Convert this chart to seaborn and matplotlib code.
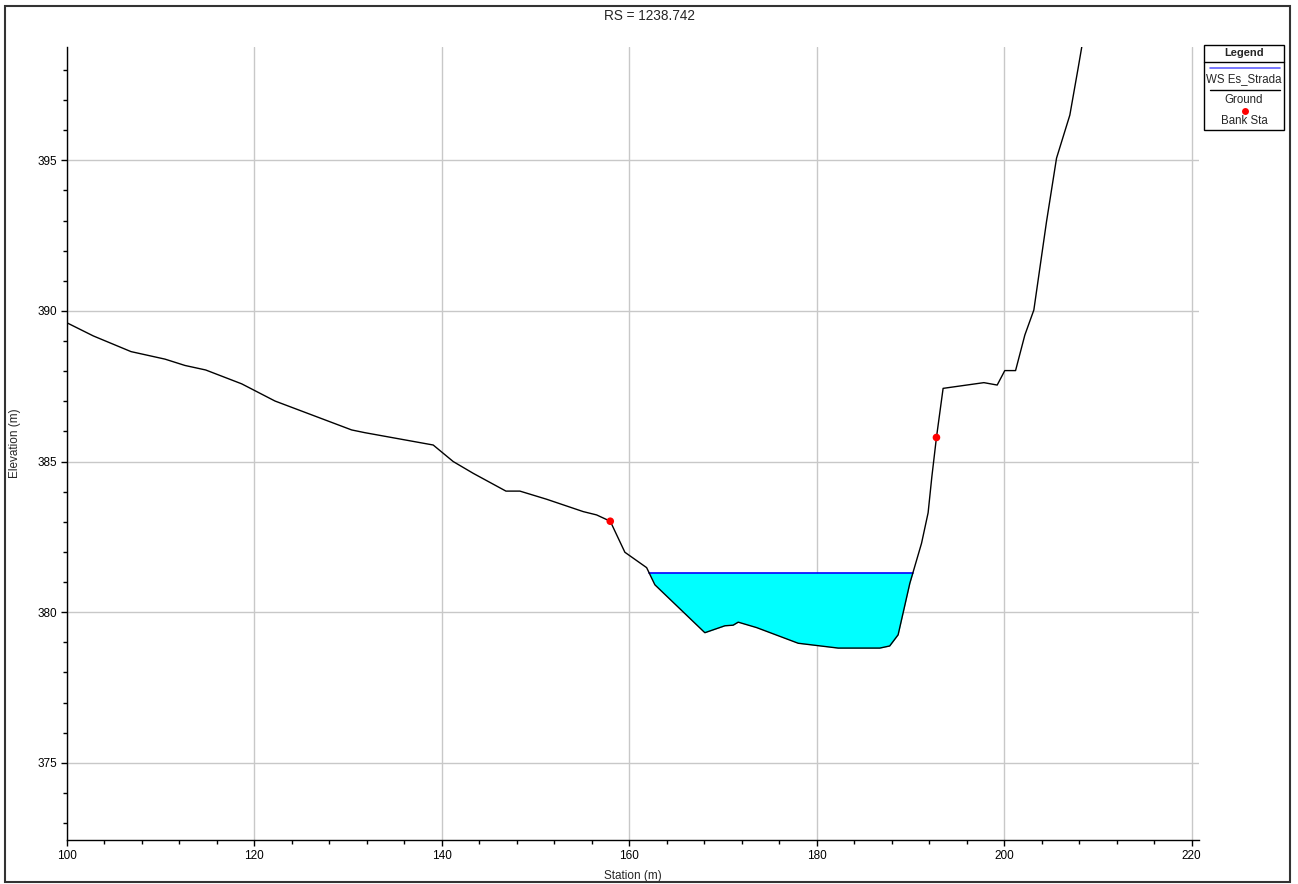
import numpy as np
import pandas as pd
import matplotlib
matplotlib.use("Agg")
import matplotlib.pyplot as plt
from matplotlib.lines import Line2D
from matplotlib.patches import Rectangle
from matplotlib.ticker import MultipleLocator
import seaborn as sns

# ---------------- data ----------------
title = "RS = 1238.742"
ws_label = "WS Es_Strada"
ws_elev = 381.31

station = [100.0, 102.84, 106.86, 110.49, 112.62, 114.83, 118.67, 122.22, 130.4, 131.8,
           139.1, 141.24, 143.37, 146.86, 148.35, 151.2, 155.1, 156.53, 157.99, 159.55,
           161.87, 162.75, 168.08, 170.22, 171.1, 171.64, 173.6, 178.04, 182.3, 186.75,
           187.8, 188.7, 189.95, 191.2, 191.9, 192.3, 192.79, 193.5, 197.85, 199.27, 200.08,
           201.23, 202.22, 203.18, 204.53, 205.6, 207.02, 207.9, 208.7]
elevation = [389.61, 389.17, 388.65, 388.40, 388.19, 388.04, 387.58, 387.01, 386.05, 385.96,
             385.55, 385.0, 384.61, 384.02, 384.02, 383.75, 383.34, 383.23, 383.02, 381.99,
             381.48, 380.91, 379.32, 379.55, 379.57, 379.67, 379.49, 378.97, 378.81, 378.81,
             378.88, 379.25, 380.96, 382.29, 383.3, 384.5, 385.8, 387.43, 387.62, 387.54, 388.02,
             388.02, 389.2, 390.03, 392.96, 395.07, 396.5, 398.05, 399.5]

bank_station = [157.99, 192.79]
bank_elev = [383.02, 385.8]

xticks = [100, 120, 140, 160, 180, 200, 220]
yticks = [375, 380, 385, 390, 395]

# ---------------- styling ----------------
sns.set_style("white")
plt.rcParams["font.family"] = ["Liberation Sans", "DejaVu Sans"]

W, H = 1298, 884
fig = plt.figure(figsize=(W / 100, H / 100), dpi=100)
ax = fig.add_axes([66.7 / W, 1 - 840 / H, (1199 - 66.7) / W, (840 - 46.7) / H])

ground = pd.DataFrame({"Station": station, "Elevation": elevation})
x = np.array(station)
y = np.array(elevation)

# water fill between ground and WS
xf = np.linspace(x.min(), x.max(), 6000)
yf = np.interp(xf, x, y)
wet = (yf < ws_elev) & (xf > 150) & (xf < 195)
ax.fill_between(xf, yf, ws_elev, where=wet, color="#00FFFF", linewidth=0, zorder=2)

# WS line extent (intersections of ground with WS)
x_left, x_right = xf[wet].min(), xf[wet].max()
ws_df = pd.DataFrame({"Station": [x_left, x_right], "Elevation": [ws_elev, ws_elev]})
sns.lineplot(data=ws_df, x="Station", y="Elevation", color="#0000FF", linewidth=1.2,
             ax=ax, zorder=3, legend=False)

sns.lineplot(data=ground, x="Station", y="Elevation", color="black", linewidth=1.0,
             ax=ax, zorder=4, sort=False, legend=False)

bank = pd.DataFrame({"Station": bank_station, "Elevation": bank_elev})
sns.scatterplot(data=bank, x="Station", y="Elevation", color="#FF0000", s=30,
                edgecolor="none", ax=ax, zorder=5, legend=False)

ax.set_xlim(100, 220.8)
ax.set_ylim(372.44, 398.77)
ax.set_xticks(xticks)
ax.set_yticks(yticks)
ax.xaxis.set_minor_locator(MultipleLocator(4))
ax.yaxis.set_minor_locator(MultipleLocator(1))
ax.grid(True, which="major", color="#c8c8c8", linewidth=1.0)
ax.set_axisbelow(True)
for side in ["top", "right"]:
    ax.spines[side].set_visible(False)
for side in ["left", "bottom"]:
    ax.spines[side].set_visible(True)
    ax.spines[side].set_color("black")
    ax.spines[side].set_linewidth(1.0)
ax.tick_params(axis="both", which="major", direction="out", length=4, width=1,
               color="black", labelsize=8.5, labelcolor="black", pad=3,
               bottom=True, left=True)
ax.tick_params(axis="both", which="minor", direction="out", length=3, width=1,
               color="black", bottom=True, left=True)
ax.set_xlabel("Station (m)", fontsize=8.5, labelpad=6)
ax.set_ylabel("Elevation (m)", fontsize=8.5, labelpad=12)

fig.text(0.5, 1 - 16 / H, title, ha="center", va="center", fontsize=9.8)

# figure border
fig.patches.append(Rectangle((5 / W, 2 / H), (1290 - 5) / W, (880 - 4) / H,
                             transform=fig.transFigure, fill=False,
                             edgecolor="#333333", linewidth=1.5))

# legend box (HEC-RAS style)
lx0, lx1, ly0, ly1 = 1204, 1284, 45, 130
cx = (lx0 + lx1) / 2 / W
fig.patches.append(Rectangle((lx0 / W, 1 - ly1 / H), (lx1 - lx0) / W, (ly1 - ly0) / H,
                             transform=fig.transFigure, fill=True, facecolor="white",
                             edgecolor="black", linewidth=1.0, zorder=10))
fig.lines.append(Line2D([lx0 / W, lx1 / W], [1 - 62 / H, 1 - 62 / H],
                        transform=fig.transFigure, color="black", linewidth=1.0, zorder=11))
fig.text(cx, 1 - 53 / H, "Legend", ha="center", va="center",
         fontsize=8, fontweight="bold", zorder=12)
fig.lines.append(Line2D([1210 / W, 1280 / W], [1 - 68 / H, 1 - 68 / H],
                        transform=fig.transFigure, color="#6060FF", linewidth=1.2, zorder=11))
fig.text(cx, 1 - 79 / H, ws_label, ha="center", va="center", fontsize=8.3, zorder=12)
fig.lines.append(Line2D([1210 / W, 1280 / W], [1 - 90 / H, 1 - 90 / H],
                        transform=fig.transFigure, color="black", linewidth=1.0, zorder=11))
fig.text(cx, 1 - 100 / H, "Ground", ha="center", va="center", fontsize=8.3, zorder=12)
fig.lines.append(Line2D([1245 / W], [1 - 110.5 / H], transform=fig.transFigure,
                        marker="o", markersize=5, color="#FF0000", markeredgewidth=0,
                        linestyle="none", zorder=11))
fig.text(cx, 1 - 121 / H, "Bank Sta", ha="center", va="center", fontsize=8.3, zorder=12)

fig.savefig("out.png", dpi=100)
